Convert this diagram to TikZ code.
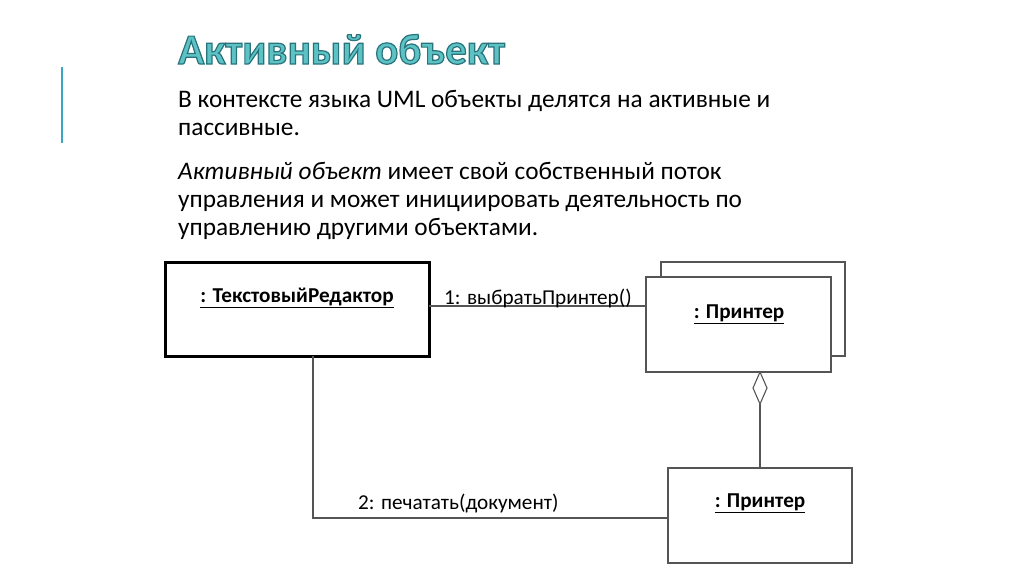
\documentclass[tikz,border=0pt]{standalone}
\usepackage{fontspec}
\setmainfont{Carlito}
\definecolor{accent}{HTML}{3AA6C4}
\definecolor{titlefill}{HTML}{5CC2C4}
\definecolor{linegray}{HTML}{555555}
\newcommand{\outlinedtext}[1]{\special{pdf:literal direct 2 Tr 1.2 w 0.16 0.45 0.49 RG}#1\special{pdf:literal direct 0 Tr}}
\tikzset{
  objbox/.style={draw=linegray, line width=1.2pt, fill=white},
  activebox/.style={draw=black, line width=3pt, fill=white},
  conn/.style={draw=linegray, line width=1.1pt},
  body/.style={anchor=base west, inner sep=0pt, font=\fontsize{25.3}{30}\selectfont},
  msg/.style={inner sep=0pt, font=\fontsize{21.2}{25}\selectfont},
  objname/.style={inner sep=0pt, font=\fontsize{21.2}{25}\selectfont\bfseries},
}
\begin{document}
\begin{tikzpicture}[x=1pt,y=-1pt]
\useasboundingbox[fill=white] (0,0) rectangle (1024,574);
% accent bar
\draw[accent, line width=2pt] (62,67) coordinate (barTop) -- (62,143) coordinate (barBot);
% title
\node[anchor=base west, inner sep=0pt, text=titlefill, font=\fontsize{43}{47}\selectfont\bfseries] (title) at (178,64) {\outlinedtext{Активный объект}};
% body text
\node[body] (l1) at (178,107) {В контексте языка UML объекты делятся на активные и};
\node[body] (l2) at (178,135) {пассивные.};
\node[body] (l3) at (178,179) {\textit{Активный объект} имеет свой собственный поток};
\node[body] (l4) at (178,207) {управления и может инициировать деятельность по};
\node[body] (l5) at (178,235) {управлению другими объектами.};
% boxes
\draw[activebox] (165,262) rectangle (429,356);
\coordinate (editorR) at (429,306);
\coordinate (editorB) at (313,356);
\node[objname, anchor=base] (editor) at (297,302) {\underline{: ТекстовыйРедактор}};
\draw[objbox] (661,262) rectangle (845,356);
\draw[objbox] (646,277) rectangle (831,372);
\coordinate (printerL) at (646,306);
\node[objname, anchor=base] (printer) at (739,318) {\underline{: Принтер}};
\draw[objbox] (668,468) rectangle (852,563);
\node[objname, anchor=base] (printer2) at (760,507) {\underline{: Принтер}};
\coordinate (printer2T) at (760,468);
\coordinate (printer2L) at (668,518);
% diamond
\coordinate (dTop) at (760,372);
\coordinate (dBot) at (760,404);
\draw[conn, fill=white, line width=1.1pt] (dTop) -- (767,388) -- (dBot) -- (753,388) -- cycle;
% connectors
\draw[conn] (editorR) -- (printerL);
\draw[conn] (dBot) -- (printer2T);
\draw[conn] (editorB) -- (313,518) -- (printer2L);
% labels
\node[msg, anchor=base west] (m1) at (444,304) {1: выбратьПринтер()};
\node[msg, anchor=base west] (m2) at (358,509) {2: печатать(документ)};
\end{tikzpicture}
\end{document}
